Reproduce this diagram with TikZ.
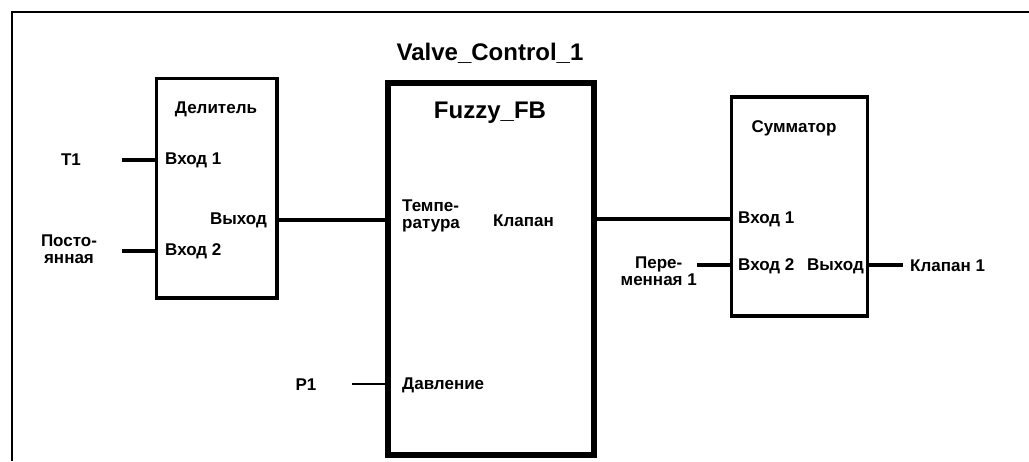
\documentclass[tikz,border=0pt]{standalone}
\usepackage{fontspec}
\setmainfont{Liberation Sans}
\begin{document}
\begin{tikzpicture}[x=1pt,y=-1pt,
  lbl/.style={inner sep=0pt, font=\fontsize{17}{17}\selectfont\bfseries, align=center},
  ttl/.style={inner sep=0pt, font=\fontsize{24}{26}\selectfont\bfseries},
  fbbox/.style={draw, line width=3.5pt, inner sep=0pt},
  bigbox/.style={draw, line width=6pt, inner sep=0pt},
  wire/.style={line width=3.5pt},
  thinwire/.style={line width=2.2pt},
  frame/.style={line width=2pt}]
\useasboundingbox (0,0) rectangle (1029,461);
% outer frame (only top and left visible)
\coordinate (fTR) at (1029,12);
\coordinate (fTL) at (12,12);
\coordinate (fBL) at (12,461);
\draw[frame] (fTR) -- (fTL) -- (fBL);

% boxes
\node[fbbox, minimum width=120.5pt, minimum height=219.5pt] (div) at (216.75,188) {};
\node[bigbox, minimum width=206pt, minimum height=372pt] (fz) at (491,269) {};
\node[fbbox, minimum width=136pt, minimum height=219pt] (sum) at (799.5,206.5) {};

% titles
\node[ttl] (vc) at (490,53) {Valve\_Control\_1};
\node[ttl] (fzt) at (490,113) {Fuzzy\_FB};
\node[lbl] (divt) at (216,109) {Делитель};
\node[lbl] (sumt) at (794,128) {Сумматор};

% divider ports
\node[lbl, anchor=west] (din1) at (165,160) {Вход 1};
\node[lbl, anchor=west] (din2) at (165,251) {Вход 2};
\node[lbl, anchor=east] (dout) at (267,220) {Выход};

% fuzzy ports
\node[lbl, anchor=west, align=left] (ftemp) at (402,216) {Темпе-\\ратура};
\node[lbl, anchor=west] (fvalve) at (493,221) {Клапан};
\node[lbl, anchor=west] (fpress) at (402,385) {Давление};

% summator ports
\node[lbl, anchor=west] (sin1) at (738,219) {Вход 1};
\node[lbl, anchor=west] (sin2) at (738,266) {Вход 2};
\node[lbl, anchor=east] (sout) at (864,266) {Выход};

% external variables
\node[lbl] (t1) at (71,160) {T1};
\node[lbl] (const) at (69,249) {Посто-\\янная};
\node[lbl] (p1) at (306,385) {P1};
\node[lbl, anchor=east, align=center] (var1) at (697,271) {Пере-\\менная 1};
\node[lbl, anchor=west] (valve1) at (910,266) {Клапан 1};

% free ends
\coordinate (t1e) at (122,160);
\coordinate (conste) at (122,251);
\coordinate (p1e) at (352,384);
\coordinate (var1e) at (697,265);
\coordinate (valve1e) at (903,265);

% connectors
\draw[wire] (t1e) -- (t1e -| div.west);
\draw[wire] (conste) -- (conste -| div.west);
\draw[wire] (div.east |- dout) -- (fz.west |- dout);
\draw[thinwire] (p1e) -- (p1e -| fz.west);
\draw[wire] (fz.east |- sin1) -- (sum.west |- sin1);
\draw[wire] (var1e) -- (var1e -| sum.west);
\draw[wire] (sum.east |- valve1e) -- (valve1e);
\end{tikzpicture}
\end{document}
